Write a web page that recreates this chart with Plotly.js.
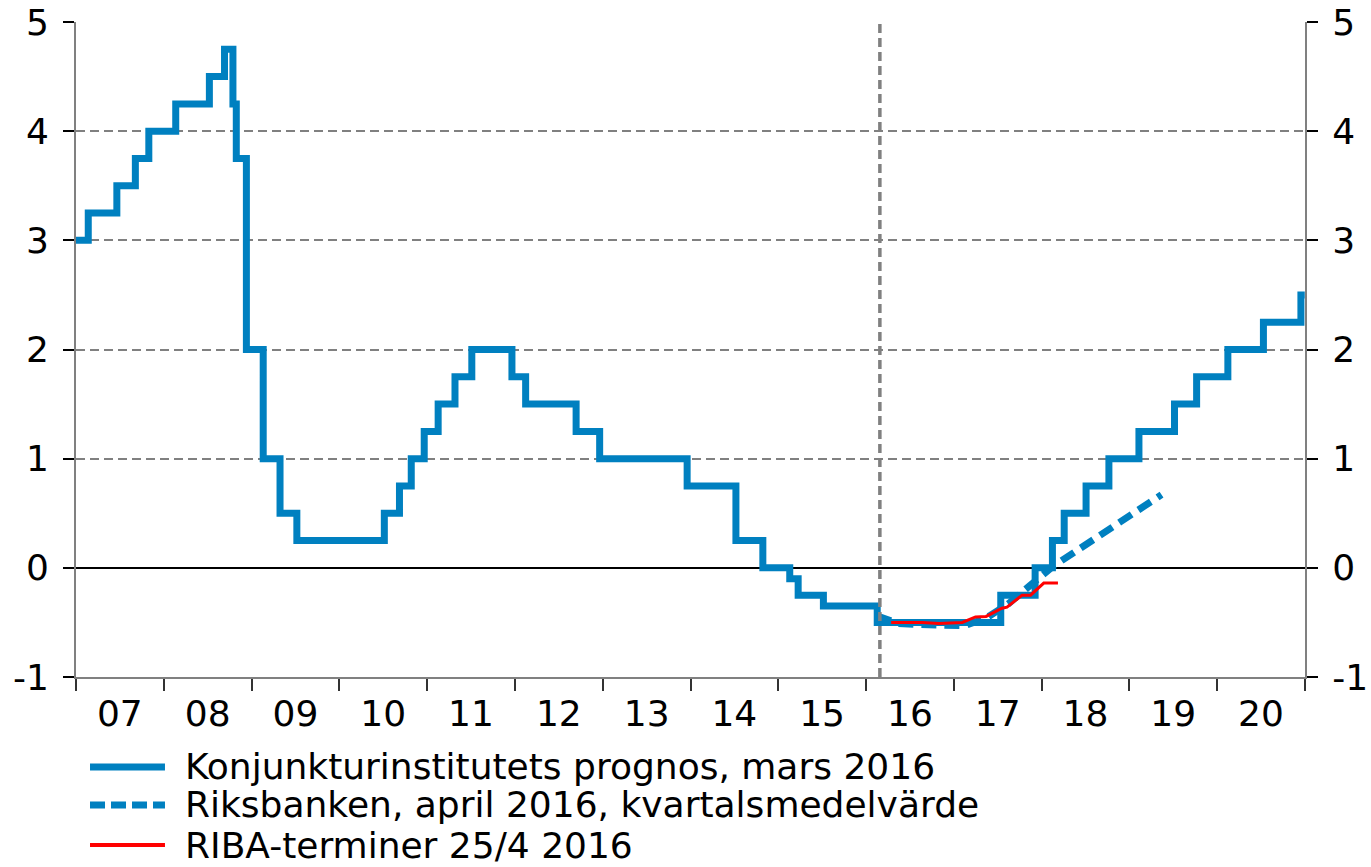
<!DOCTYPE html>
<html><head><meta charset="utf-8">
<script src="https://cdn.plot.ly/plotly-3.0.1.min.js"></script>
<style>html,body{margin:0;padding:0;background:#fff}#chart{width:1371px;height:867px}</style>
</head><body><div id="chart"></div>
<script>
// Konjunkturinstitutets prognos (reporänta, steg)
const kiDates = ['2007-01-01','2007-02-21','2007-06-20','2007-09-05','2007-10-31','2008-02-20','2008-07-09','2008-09-10','2008-10-15','2008-10-29','2008-12-10','2009-02-18','2009-04-29','2009-07-08','2010-07-07','2010-09-08','2010-10-27','2010-12-20','2011-02-16','2011-04-27','2011-07-06','2011-12-20','2012-02-15','2012-09-12','2012-12-19','2013-12-18','2014-07-09','2014-10-29','2015-02-18','2015-03-25','2015-07-08','2016-02-17','2017-07-15','2017-12-05','2018-02-15','2018-04-05','2018-07-05','2018-10-08','2019-02-10','2019-07-08','2019-10-08','2020-02-15','2020-07-12','2020-12-15','2020-12-31'];
const kiValues = [3.00,3.25,3.50,3.75,4.00,4.25,4.50,4.75,4.25,3.75,2.00,1.00,0.50,0.25,0.50,0.75,1.00,1.25,1.50,1.75,2.00,1.75,1.50,1.25,1.00,0.75,0.25,0.00,-0.10,-0.25,-0.35,-0.50,-0.25,0.00,0.25,0.50,0.75,1.00,1.25,1.50,1.75,2.00,2.25,2.50,2.50];

// Riksbanken, april 2016, kvartalsmedelvärde
const rbDates = ['2016-02-15','2016-05-15','2016-08-15','2016-11-15','2017-02-15','2017-05-15','2017-08-15','2017-11-15','2018-02-15','2018-05-15','2018-08-15','2018-11-15','2019-02-15','2019-05-15'];
const rbValues = [-0.44,-0.51,-0.52,-0.53,-0.53,-0.46,-0.33,-0.16,0.01,0.14,0.27,0.40,0.53,0.67];

// RIBA-terminer 25/4 2016
const ribaDates = ['2016-04-15','2016-08-22','2016-10-31','2017-02-05','2017-04-01','2017-05-15','2017-07-20','2017-08-10','2017-10-12','2017-11-16','2018-01-10','2018-03-10'];
const ribaValues = [-0.50,-0.50,-0.51,-0.50,-0.45,-0.445,-0.37,-0.36,-0.25,-0.25,-0.14,-0.14];

const seriesNames = ['Konjunkturinstitutets prognos, mars 2016','Riksbanken, april 2016, kvartalsmedelvärde','RIBA-terminer 25/4 2016'];
const forecastLineDate = '2016-02-28';
const yTickVals = [-1,0,1,2,3,4,5];
const yTickText = ['-1','0','1','2','3','4','5'];
const xRange = ['2007-01-01','2021-01-01'];
const yRange = [-1,5];

const BLUE = '#0080C0', RED = '#FF0000', GRAY = '#808080';
const FONT = {family:'DejaVu Sans, Verdana, sans-serif', size:36, color:'#000'};

const traces = [
  {x:kiDates, y:kiValues, name:seriesNames[0], mode:'lines', line:{shape:'hv', color:BLUE, width:7}},
  {x:rbDates, y:rbValues, name:seriesNames[1], mode:'lines', line:{color:BLUE, width:7, dash:'15px,8px'}},
  {x:ribaDates, y:ribaValues, name:seriesNames[2], mode:'lines', line:{color:RED, width:3}},
  // carrier for the right-hand axis (invisible)
  {x:kiDates, y:kiValues, yaxis:'y2', mode:'lines', line:{width:0, color:'rgba(0,0,0,0)'}, hoverinfo:'skip', showlegend:false}
];

// custom legend (sample lines + texts)
const legY = [-0.1374, -0.1954, -0.2565];
const legStyles = [
  {color:BLUE, width:7, dash:'solid'},
  {color:BLUE, width:7, dash:'15px,6px'},
  {color:RED, width:4, dash:'solid'}
];
const shapes = [
  {type:'line', xref:'x', yref:'paper', x0:forecastLineDate, x1:forecastLineDate, y0:0, y1:1,
   line:{color:GRAY, width:3.5, dash:'9px,5px'}, layer:'above'}
];
const annotations = [];
seriesNames.forEach((n,i)=>{
  shapes.push({type:'line', xref:'paper', yref:'paper', x0:0.0114, x1:0.0724, y0:legY[i], y1:legY[i], line:legStyles[i]});
  annotations.push({xref:'paper', yref:'paper', x:0.0871, y:legY[i], xanchor:'left', yanchor:'middle', text:n, showarrow:false, font:FONT});
});

const yCommon = {range:yRange, tickmode:'array', tickvals:yTickVals, ticktext:yTickText, ticks:'outside', ticklen:11, tickwidth:2, tickcolor:'#000',
  showline:true, linecolor:GRAY, linewidth:2, tickfont:FONT, ticklabelstandoff:7, fixedrange:true};

const layout = {
  width:1371, height:867,
  margin:{l:76, r:66, t:22, b:190},
  paper_bgcolor:'#fff', plot_bgcolor:'#fff',
  showlegend:false,
  font:FONT,
  xaxis:{type:'date', range:xRange, tickmode:'linear', tick0:'2007-01-01', dtick:'M12', tickformat:'%y',
    ticklabelmode:'period', ticks:'outside', ticklen:12, tickwidth:2, tickcolor:'#333', ticklabelstandoff:-8,
    showline:true, linecolor:GRAY, linewidth:2, showgrid:false, zeroline:false, tickfont:FONT, fixedrange:true},
  yaxis:Object.assign({}, yCommon, {showgrid:true, gridcolor:GRAY, gridwidth:2, griddash:'9px,5px',
    zeroline:true, zerolinecolor:'#000', zerolinewidth:2.5}),
  yaxis2:Object.assign({}, yCommon, {overlaying:'y', side:'right', showgrid:false, zeroline:false}),
  shapes:shapes,
  annotations:annotations
};

Plotly.newPlot('chart', traces, layout, {displayModeBar:false, staticPlot:true});
</script>
</body></html>
